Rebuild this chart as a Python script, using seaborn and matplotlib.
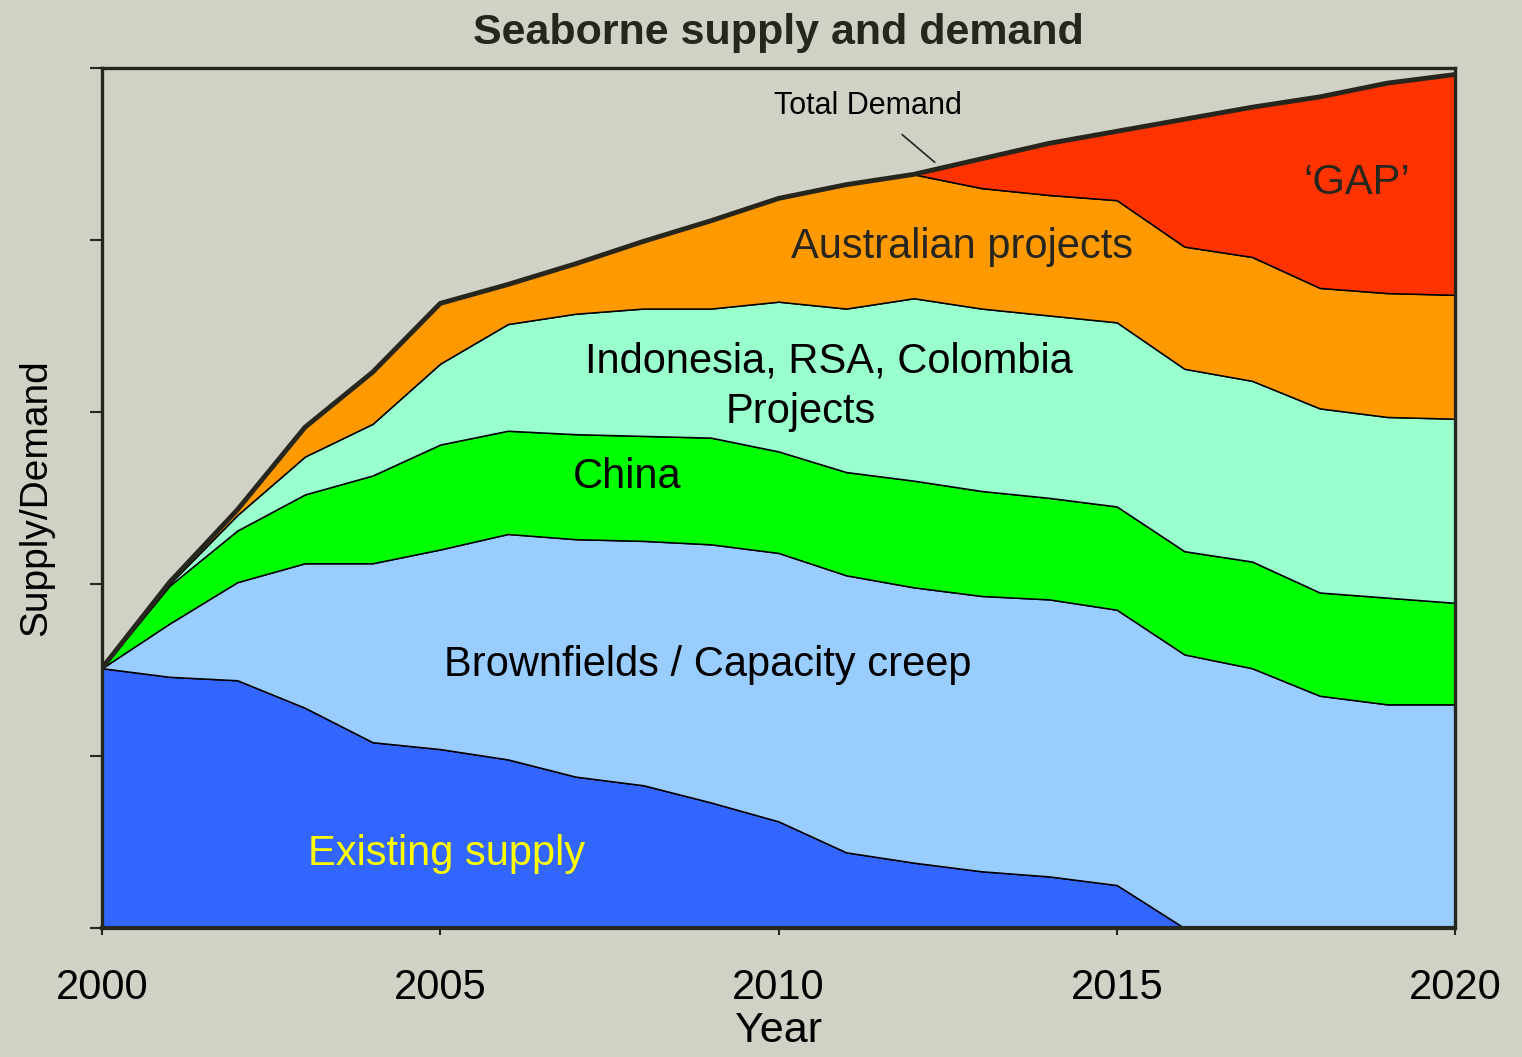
import numpy as np
import pandas as pd
import matplotlib
matplotlib.use('Agg')
import matplotlib.pyplot as plt
import seaborn as sns

# values (arbitrary units, 0..5)
years = list(range(2000, 2021))

existing_supply = [1.51, 1.46, 1.44, 1.28, 1.08, 1.04, 0.98, 0.88, 0.83, 0.73, 0.62,
                   0.44, 0.38, 0.33, 0.30, 0.25, 0.00, 0.00, 0.00, 0.00, 0.00]
brownfields = [0.00, 0.31, 0.57, 0.84, 1.04, 1.16, 1.31, 1.38, 1.42, 1.50, 1.56,
               1.61, 1.60, 1.60, 1.61, 1.60, 1.59, 1.51, 1.35, 1.30, 1.30]
china = [0.00, 0.22, 0.30, 0.40, 0.51, 0.61, 0.60, 0.61, 0.61, 0.62, 0.59,
         0.60, 0.62, 0.61, 0.59, 0.60, 0.60, 0.62, 0.60, 0.62, 0.59]
indo_rsa_col = [0.00, 0.01, 0.09, 0.22, 0.30, 0.47, 0.62, 0.70, 0.74, 0.75, 0.87,
                0.95, 1.06, 1.06, 1.06, 1.07, 1.06, 1.05, 1.07, 1.05, 1.07]
australian = [0.00, 0.01, 0.03, 0.17, 0.30, 0.35, 0.23, 0.29, 0.39, 0.51, 0.60,
              0.72, 0.72, 0.70, 0.70, 0.71, 0.71, 0.72, 0.70, 0.72, 0.72]
total_demand = [1.51, 2.01, 2.43, 2.91, 3.23, 3.63, 3.74, 3.86, 3.99, 4.11, 4.24,
                4.32, 4.38, 4.47, 4.56, 4.63, 4.70, 4.77, 4.83, 4.91, 4.96]

layer_colors = ['#3366FF', '#99CCFF', '#00FF00', '#99FFCC', '#FF9900']
gap_color = '#FF3300'
bg = '#D2D1C5'
dark = '#26261E'

sns.set_theme(style='white', rc={'figure.facecolor': bg, 'axes.facecolor': bg})
plt.rcParams['font.family'] = ['Liberation Sans', 'DejaVu Sans']

df = pd.DataFrame({'year': years, 'existing': existing_supply, 'brown': brownfields,
                   'china': china, 'indo': indo_rsa_col, 'aus': australian,
                   'demand': total_demand})
supply_top = df[['existing', 'brown', 'china', 'indo', 'aus']].sum(axis=1)

fig, ax = plt.subplots(figsize=(15.22, 10.57), dpi=100)
fig.subplots_adjust(left=0.067, right=0.956, bottom=0.122, top=0.936)

ax.stackplot(df['year'], df['existing'], df['brown'], df['china'], df['indo'], df['aus'],
             colors=layer_colors, edgecolor='black', linewidth=1.1)
ax.fill_between(df['year'], supply_top, df['demand'], where=df['demand'] > supply_top + 0.001,
                interpolate=True, color=gap_color, edgecolor='black', linewidth=1.1)
sns.lineplot(x='year', y='demand', data=df, ax=ax, color=dark, linewidth=3.5, zorder=5)

ax.set_xlim(2000, 2020)
ax.set_ylim(0, 5)
ax.set_xticks([2000, 2005, 2010, 2015, 2020])
ax.set_yticks([0, 1, 2, 3, 4, 5])
ax.set_yticklabels([])
ax.tick_params(axis='x', direction='out', length=5, width=1.5, color=dark, bottom=True,
               labelsize=30, pad=24, labelcolor='black')
ax.tick_params(axis='y', direction='out', length=9, width=1.5, color=dark, left=True)
for s in ax.spines.values():
    s.set_color(dark)
    s.set_linewidth(2.4)
    s.set_zorder(6)
ax.spines['bottom'].set_linewidth(3)

ax.set_xlabel('Year', fontsize=31, color='black', labelpad=2)
ax.set_ylabel('Supply/Demand', fontsize=28, color='black', labelpad=22)
ax.set_title('Seaborne supply and demand', fontsize=31, fontweight='bold', color=dark, pad=17)

ax.text(2005.1, 0.43, 'Existing supply', fontsize=30, color='#FFFF00', ha='center', va='center')
ax.text(2008.96, 1.53, 'Brownfields / Capacity creep', fontsize=30, color='black',
        ha='center', va='center')
ax.text(2007.76, 2.62, 'China', fontsize=30, color='black', ha='center', va='center')
ax.text(2010.75, 3.29, 'Indonesia, RSA, Colombia', fontsize=30, color='black',
        ha='center', va='center')
ax.text(2010.33, 3.0, 'Projects', fontsize=30, color='black', ha='center', va='center')
ax.text(2012.71, 3.96, 'Australian projects', fontsize=30, color=dark, ha='center', va='center')
ax.text(2018.55, 4.33, '\u2018GAP\u2019', fontsize=30, color=dark, ha='center', va='center')
ax.annotate('Total Demand', xy=(2012.31, 4.45), xytext=(2011.32, 4.78), fontsize=22,
            color='black', ha='center', va='center',
            arrowprops=dict(arrowstyle='-', color=dark, lw=1.2, shrinkA=12, shrinkB=0))

plt.savefig('out.png', dpi=100, facecolor=bg)
